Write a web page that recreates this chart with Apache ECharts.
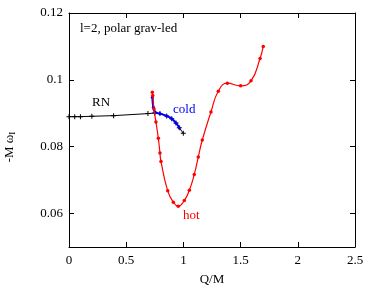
<!DOCTYPE html>
<html>
<head>
<meta charset="utf-8">
<script src="https://cdn.jsdelivr.net/npm/echarts@6/dist/echarts.min.js"></script>
<style>
html,body{margin:0;padding:0;background:#fff;}
#c{width:378px;height:291px;}
</style>
</head>
<body>
<div id="c"></div>
<script>
// Data
const rnX = [0, 0.05, 0.1, 0.2, 0.39, 0.69, 0.75, 0.795, 0.854, 0.898, 0.935, 0.964, 0.999];
const rnY = [0.0890, 0.0890, 0.0890, 0.0891, 0.0893, 0.0899, 0.0901, 0.0899, 0.0892, 0.0884, 0.0871, 0.0857, 0.0840];
const coldX = [0.728, 0.737, 0.752, 0.795, 0.854, 0.898, 0.935, 0.964];
const coldY = [0.0948, 0.0918, 0.0904, 0.0899, 0.0892, 0.0884, 0.0871, 0.0857];
const hotX = [0.728, 0.732, 0.743, 0.760, 0.781, 0.795, 0.804, 0.863, 0.912, 0.955, 1.008, 1.052, 1.095, 1.13, 1.165, 1.241, 1.305, 1.384, 1.5, 1.591, 1.67, 1.698];
const hotY = [0.0963, 0.0953, 0.0913, 0.0874, 0.0825, 0.0781, 0.0756, 0.0668, 0.0634, 0.0622, 0.0639, 0.0670, 0.0717, 0.0769, 0.0820, 0.0904, 0.0966, 0.0990, 0.0982, 0.0997, 0.1064, 0.1100];
const xTicks = [0, 0.5, 1, 1.5, 2, 2.5];
const yTicks = [0.06, 0.08, 0.1, 0.12];

const zip = (a, b) => a.map((v, i) => [v, b[i]]);
const FONT = 'Liberation Serif';
const plus = 'path://M0.4,0H0.6V0.4H1V0.6H0.6V1H0.4V0.6H0V0.4H0.4Z';

const chart = echarts.init(document.getElementById('c'), null, {renderer: 'canvas'});
const axisBase = {
  type: 'value',
  axisLine: {show: true, onZero: false, lineStyle: {color: '#000', width: 1}},
  splitLine: {show: false}
};
chart.setOption({
  animation: false,
  backgroundColor: '#fff',
  grid: {left: 69, right: 23, top: 13, bottom: 41, containLabel: false},
  xAxis: [
    Object.assign({}, axisBase, {
      position: 'bottom', min: 0, max: 2.5, interval: 0.5,
      axisTick: {inside: true, length: 5, customValues: xTicks, lineStyle: {color: '#000'}},
      axisLabel: {color: '#000', fontFamily: FONT, fontSize: 13, margin: 7, customValues: xTicks,
        formatter: v => String(parseFloat((+v).toFixed(2)))},
      name: 'Q/M', nameLocation: 'middle', nameGap: 26,
      nameTextStyle: {color: '#000', fontFamily: FONT, fontSize: 13}
    }),
    Object.assign({}, axisBase, {
      position: 'top', min: 0, max: 2.5, interval: 0.5,
      axisTick: {inside: true, length: 5, customValues: xTicks, lineStyle: {color: '#000'}},
      axisLabel: {show: false}
    })
  ],
  yAxis: [
    Object.assign({}, axisBase, {
      position: 'left', min: 0.05, max: 0.12, interval: 0.01,
      axisTick: {inside: true, length: 5, customValues: yTicks, lineStyle: {color: '#000'}},
      axisLabel: {color: '#000', fontFamily: FONT, fontSize: 13, margin: 6, customValues: yTicks,
        formatter: v => String(parseFloat((+v).toFixed(2)))}
    }),
    Object.assign({}, axisBase, {
      position: 'right', min: 0.05, max: 0.12, interval: 0.01,
      axisTick: {inside: true, length: 5, customValues: yTicks, lineStyle: {color: '#000'}},
      axisLabel: {show: false}
    })
  ],
  series: [
    {
      type: 'line', name: 'RN', data: zip(rnX, rnY),
      symbol: plus, symbolSize: 5, showSymbol: true,
      lineStyle: {color: '#000', width: 1}, itemStyle: {color: '#000'},
      z: 2
    },
    {
      type: 'line', name: 'cold', data: zip(coldX, coldY), smooth: 0.4,
      symbol: 'circle', symbolSize: 3,
      lineStyle: {color: '#0000ff', width: 2}, itemStyle: {color: '#0000ff'},
      z: 3
    },
    {
      type: 'line', name: 'hot', data: zip(hotX, hotY), smooth: 0.5,
      symbol: 'circle', symbolSize: 3.5,
      lineStyle: {color: '#ff0000', width: 1.2}, itemStyle: {color: '#ff0000'},
      z: 4
    }
  ],
  graphic: [
    {type: 'text', left: 80, top: 22, style: {text: 'l=2, polar grav-led', fill: '#000', font: '13px "Liberation Serif"'}},
    {type: 'text', left: 92, top: 96, style: {text: 'RN', fill: '#000', font: '13px "Liberation Serif"'}},
    {type: 'text', left: 173, top: 103, style: {text: 'cold', fill: '#0000ff', font: '13px "Liberation Serif"'}},
    {type: 'text', left: 183, top: 209, style: {text: 'hot', fill: '#ff0000', font: '13px "Liberation Serif"'}},
    {type: 'text', x: 10, y: 147, rotation: Math.PI / 2,
      style: {text: '-M ω{s|I}', fill: '#000', font: '13px "Liberation Serif"', align: 'center', verticalAlign: 'middle',
        rich: {s: {fontSize: 9, fontFamily: FONT, verticalAlign: 'bottom', padding: [6, 0, 0, 0]}}}}
  ]
});
</script>
</body>
</html>
